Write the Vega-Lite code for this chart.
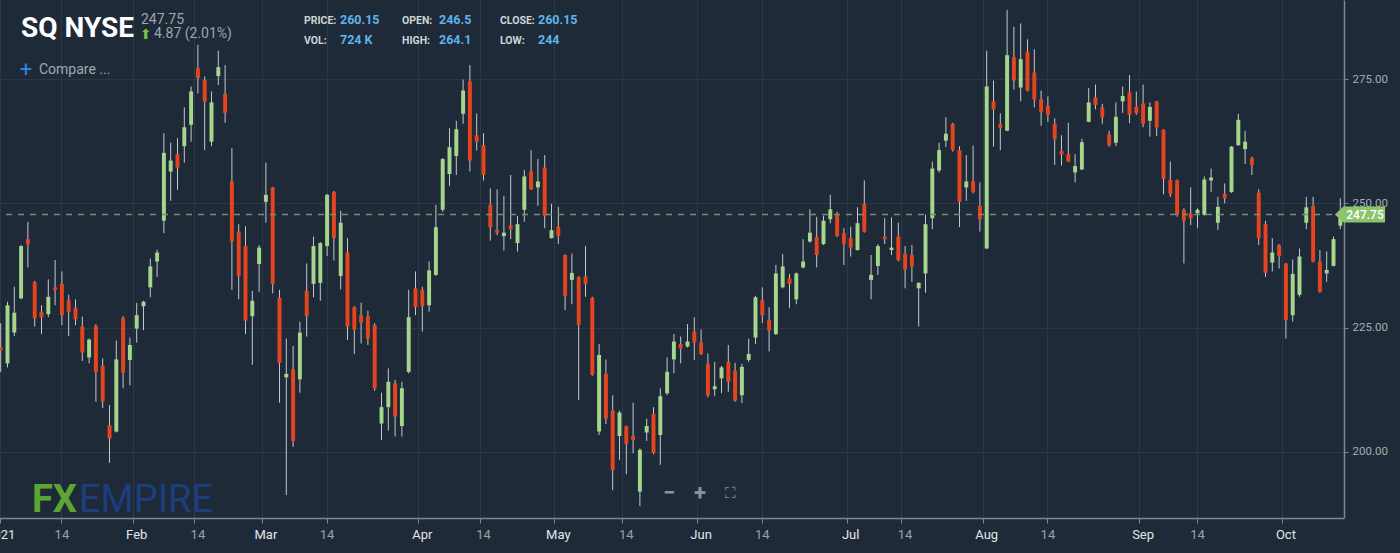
{
  "$schema": "https://vega.github.io/schema/vega-lite/v6.json",
  "width": 1344,
  "height": 518,
  "autosize": "none",
  "padding": {"left": 0, "top": 0, "right": 56, "bottom": 35},
  "background": "#1e2a37",
  "config": {"view": {"stroke": null}, "font": "Roboto"},
  "datasets": {
    "sq": [
      {"date": "2020-12-31", "open": 221.0, "high": 225.9, "low": 216.1, "close": 220.4},
      {"date": "2021-01-04", "open": 217.8, "high": 230.2, "low": 217.0, "close": 229.5},
      {"date": "2021-01-05", "open": 224.0, "high": 233.2, "low": 223.3, "close": 228.0},
      {"date": "2021-01-06", "open": 230.9, "high": 241.6, "low": 230.7, "close": 241.4},
      {"date": "2021-01-07", "open": 242.8, "high": 246.3, "low": 237.1, "close": 241.8},
      {"date": "2021-01-08", "open": 234.2, "high": 234.4, "low": 225.2, "close": 226.9},
      {"date": "2021-01-11", "open": 228.2, "high": 229.5, "low": 223.7, "close": 227.1},
      {"date": "2021-01-12", "open": 227.7, "high": 234.7, "low": 227.1, "close": 231.2},
      {"date": "2021-01-13", "open": 233.1, "high": 238.6, "low": 229.5, "close": 232.6},
      {"date": "2021-01-14", "open": 233.8, "high": 236.3, "low": 225.5, "close": 227.5},
      {"date": "2021-01-15", "open": 230.5, "high": 231.6, "low": 223.3, "close": 228.2},
      {"date": "2021-01-19", "open": 229.0, "high": 230.7, "low": 225.5, "close": 226.7},
      {"date": "2021-01-20", "open": 225.2, "high": 227.2, "low": 218.3, "close": 220.0},
      {"date": "2021-01-21", "open": 219.0, "high": 222.8, "low": 217.8, "close": 222.6},
      {"date": "2021-01-22", "open": 225.3, "high": 225.7, "low": 210.1, "close": 216.1},
      {"date": "2021-01-25", "open": 217.3, "high": 218.8, "low": 208.8, "close": 210.1},
      {"date": "2021-01-26", "open": 205.4, "high": 209.4, "low": 197.8, "close": 202.7},
      {"date": "2021-01-27", "open": 204.1, "high": 222.4, "low": 203.9, "close": 218.6},
      {"date": "2021-01-28", "open": 226.9, "high": 227.3, "low": 212.8, "close": 215.9},
      {"date": "2021-01-29", "open": 218.5, "high": 223.0, "low": 213.4, "close": 221.5},
      {"date": "2021-02-01", "open": 224.8, "high": 230.0, "low": 222.0, "close": 227.5},
      {"date": "2021-02-02", "open": 229.3, "high": 230.4, "low": 224.5, "close": 230.2},
      {"date": "2021-02-03", "open": 233.1, "high": 238.9, "low": 231.1, "close": 237.3},
      {"date": "2021-02-04", "open": 238.3, "high": 240.7, "low": 235.2, "close": 240.1},
      {"date": "2021-02-05", "open": 246.5, "high": 264.1, "low": 244.0, "close": 260.15},
      {"date": "2021-02-08", "open": 256.4, "high": 262.2, "low": 250.5, "close": 258.6},
      {"date": "2021-02-09", "open": 259.9, "high": 263.1, "low": 252.7, "close": 257.2},
      {"date": "2021-02-10", "open": 261.5, "high": 269.3, "low": 258.2, "close": 265.3},
      {"date": "2021-02-11", "open": 265.8, "high": 273.5, "low": 262.4, "close": 272.5},
      {"date": "2021-02-12", "open": 277.2, "high": 281.9, "low": 272.1, "close": 275.2},
      {"date": "2021-02-16", "open": 274.8, "high": 275.5, "low": 260.7, "close": 270.5},
      {"date": "2021-02-17", "open": 262.4, "high": 272.5, "low": 261.5, "close": 270.3},
      {"date": "2021-02-18", "open": 275.6, "high": 280.7, "low": 273.8, "close": 277.4},
      {"date": "2021-02-19", "open": 272.0, "high": 277.8, "low": 266.2, "close": 268.2},
      {"date": "2021-02-22", "open": 254.4, "high": 261.1, "low": 232.6, "close": 242.3},
      {"date": "2021-02-23", "open": 244.3, "high": 245.8, "low": 230.7, "close": 235.4},
      {"date": "2021-02-24", "open": 241.4, "high": 245.4, "low": 223.7, "close": 226.4},
      {"date": "2021-02-25", "open": 227.3, "high": 232.4, "low": 217.5, "close": 230.4},
      {"date": "2021-02-26", "open": 237.8, "high": 241.6, "low": 232.2, "close": 241.1},
      {"date": "2021-03-01", "open": 250.3, "high": 258.2, "low": 246.1, "close": 251.7},
      {"date": "2021-03-02", "open": 253.2, "high": 253.3, "low": 231.9, "close": 233.8},
      {"date": "2021-03-03", "open": 231.0, "high": 232.6, "low": 209.9, "close": 217.9},
      {"date": "2021-03-04", "open": 215.0, "high": 222.8, "low": 191.3, "close": 215.7},
      {"date": "2021-03-05", "open": 216.6, "high": 221.3, "low": 201.0, "close": 202.2},
      {"date": "2021-03-08", "open": 214.6, "high": 226.2, "low": 211.9, "close": 224.0},
      {"date": "2021-03-09", "open": 232.4, "high": 237.9, "low": 223.2, "close": 227.3},
      {"date": "2021-03-10", "open": 233.8, "high": 243.3, "low": 231.1, "close": 241.4},
      {"date": "2021-03-11", "open": 234.0, "high": 242.2, "low": 230.4, "close": 242.0},
      {"date": "2021-03-12", "open": 241.4, "high": 251.9, "low": 239.4, "close": 251.7},
      {"date": "2021-03-15", "open": 252.3, "high": 252.5, "low": 238.5, "close": 243.0},
      {"date": "2021-03-16", "open": 235.4, "high": 248.5, "low": 232.7, "close": 246.1},
      {"date": "2021-03-17", "open": 240.1, "high": 243.0, "low": 222.5, "close": 225.2},
      {"date": "2021-03-18", "open": 229.1, "high": 229.3, "low": 219.7, "close": 224.6},
      {"date": "2021-03-19", "open": 227.5, "high": 230.0, "low": 221.8, "close": 226.0},
      {"date": "2021-03-22", "open": 227.3, "high": 228.4, "low": 221.5, "close": 222.8},
      {"date": "2021-03-23", "open": 225.5, "high": 225.9, "low": 212.3, "close": 212.8},
      {"date": "2021-03-24", "open": 205.7, "high": 211.9, "low": 202.4, "close": 209.0},
      {"date": "2021-03-25", "open": 209.0, "high": 216.8, "low": 204.3, "close": 214.1},
      {"date": "2021-03-26", "open": 213.8, "high": 214.5, "low": 203.1, "close": 207.1},
      {"date": "2021-03-29", "open": 205.2, "high": 214.1, "low": 203.1, "close": 212.8},
      {"date": "2021-03-30", "open": 216.1, "high": 232.6, "low": 215.8, "close": 227.1},
      {"date": "2021-03-31", "open": 232.9, "high": 236.3, "low": 227.5, "close": 229.1},
      {"date": "2021-04-01", "open": 232.6, "high": 233.2, "low": 224.2, "close": 229.3},
      {"date": "2021-04-05", "open": 229.5, "high": 238.3, "low": 228.2, "close": 236.5},
      {"date": "2021-04-06", "open": 235.6, "high": 249.7, "low": 235.4, "close": 245.2},
      {"date": "2021-04-07", "open": 248.7, "high": 259.1, "low": 248.3, "close": 258.9},
      {"date": "2021-04-08", "open": 255.9, "high": 265.1, "low": 253.5, "close": 261.3},
      {"date": "2021-04-09", "open": 259.5, "high": 266.6, "low": 255.7, "close": 264.9},
      {"date": "2021-04-12", "open": 268.0, "high": 274.9, "low": 266.0, "close": 272.7},
      {"date": "2021-04-13", "open": 274.5, "high": 277.8, "low": 256.4, "close": 258.6},
      {"date": "2021-04-14", "open": 263.7, "high": 268.1, "low": 260.6, "close": 262.4},
      {"date": "2021-04-15", "open": 261.7, "high": 264.1, "low": 254.6, "close": 255.7},
      {"date": "2021-04-16", "open": 249.7, "high": 253.0, "low": 242.5, "close": 245.2},
      {"date": "2021-04-19", "open": 244.6, "high": 252.8, "low": 243.6, "close": 244.1},
      {"date": "2021-04-20", "open": 243.4, "high": 251.5, "low": 240.5, "close": 244.1},
      {"date": "2021-04-21", "open": 245.6, "high": 255.7, "low": 242.8, "close": 244.8},
      {"date": "2021-04-22", "open": 242.0, "high": 247.5, "low": 240.3, "close": 245.8},
      {"date": "2021-04-23", "open": 248.7, "high": 256.7, "low": 246.3, "close": 255.4},
      {"date": "2021-04-26", "open": 256.4, "high": 260.7, "low": 252.7, "close": 252.8},
      {"date": "2021-04-27", "open": 253.2, "high": 258.9, "low": 249.5, "close": 254.4},
      {"date": "2021-04-28", "open": 257.2, "high": 259.7, "low": 245.0, "close": 247.5},
      {"date": "2021-04-29", "open": 243.0, "high": 249.9, "low": 242.9, "close": 244.6},
      {"date": "2021-04-30", "open": 245.3, "high": 249.3, "low": 241.8, "close": 243.4},
      {"date": "2021-05-03", "open": 239.6, "high": 239.7, "low": 228.5, "close": 231.4},
      {"date": "2021-05-04", "open": 234.6, "high": 239.9, "low": 229.7, "close": 236.0},
      {"date": "2021-05-05", "open": 235.2, "high": 235.3, "low": 210.4, "close": 225.5},
      {"date": "2021-05-06", "open": 235.3, "high": 241.4, "low": 231.2, "close": 233.8},
      {"date": "2021-05-07", "open": 231.0, "high": 231.2, "low": 215.3, "close": 215.5},
      {"date": "2021-05-10", "open": 204.1, "high": 221.7, "low": 203.4, "close": 219.5},
      {"date": "2021-05-11", "open": 215.7, "high": 218.6, "low": 205.6, "close": 206.7},
      {"date": "2021-05-12", "open": 208.3, "high": 211.4, "low": 192.3, "close": 196.3},
      {"date": "2021-05-13", "open": 203.2, "high": 208.3, "low": 198.4, "close": 207.9},
      {"date": "2021-05-14", "open": 205.2, "high": 205.3, "low": 195.5, "close": 201.6},
      {"date": "2021-05-17", "open": 203.2, "high": 209.9, "low": 199.7, "close": 202.4},
      {"date": "2021-05-18", "open": 192.0, "high": 200.7, "low": 189.1, "close": 200.4},
      {"date": "2021-05-19", "open": 203.9, "high": 206.7, "low": 202.2, "close": 205.2},
      {"date": "2021-05-20", "open": 207.6, "high": 209.0, "low": 199.5, "close": 199.8},
      {"date": "2021-05-21", "open": 203.4, "high": 212.8, "low": 197.4, "close": 211.2},
      {"date": "2021-05-24", "open": 211.8, "high": 219.0, "low": 211.4, "close": 216.1},
      {"date": "2021-05-25", "open": 218.6, "high": 223.7, "low": 215.8, "close": 222.2},
      {"date": "2021-05-26", "open": 221.7, "high": 223.2, "low": 217.8, "close": 220.8},
      {"date": "2021-05-27", "open": 221.2, "high": 225.7, "low": 221.0, "close": 222.2},
      {"date": "2021-05-28", "open": 224.2, "high": 227.1, "low": 218.5, "close": 222.0},
      {"date": "2021-06-01", "open": 222.0, "high": 224.6, "low": 219.5, "close": 219.7},
      {"date": "2021-06-02", "open": 217.7, "high": 219.8, "low": 211.0, "close": 211.4},
      {"date": "2021-06-03", "open": 212.6, "high": 218.1, "low": 211.2, "close": 213.2},
      {"date": "2021-06-04", "open": 214.8, "high": 217.3, "low": 211.8, "close": 217.0},
      {"date": "2021-06-07", "open": 218.1, "high": 221.5, "low": 212.1, "close": 214.1},
      {"date": "2021-06-08", "open": 216.3, "high": 217.9, "low": 210.1, "close": 210.3},
      {"date": "2021-06-09", "open": 211.4, "high": 217.7, "low": 209.8, "close": 217.1},
      {"date": "2021-06-10", "open": 218.5, "high": 222.8, "low": 218.1, "close": 219.7},
      {"date": "2021-06-11", "open": 223.0, "high": 231.4, "low": 221.7, "close": 231.1},
      {"date": "2021-06-14", "open": 230.5, "high": 233.1, "low": 225.9, "close": 227.5},
      {"date": "2021-06-15", "open": 226.5, "high": 229.1, "low": 220.2, "close": 224.4},
      {"date": "2021-06-16", "open": 223.7, "high": 237.6, "low": 223.5, "close": 235.9},
      {"date": "2021-06-17", "open": 233.1, "high": 239.8, "low": 232.9, "close": 237.3},
      {"date": "2021-06-18", "open": 234.9, "high": 235.8, "low": 228.9, "close": 233.8},
      {"date": "2021-06-21", "open": 230.7, "high": 236.1, "low": 229.7, "close": 235.9},
      {"date": "2021-06-22", "open": 237.1, "high": 242.8, "low": 236.9, "close": 238.3},
      {"date": "2021-06-23", "open": 242.3, "high": 248.8, "low": 242.1, "close": 244.1},
      {"date": "2021-06-24", "open": 243.2, "high": 247.3, "low": 237.1, "close": 239.6},
      {"date": "2021-06-25", "open": 241.8, "high": 247.5, "low": 241.6, "close": 246.5},
      {"date": "2021-06-28", "open": 246.8, "high": 251.7, "low": 246.0, "close": 248.8},
      {"date": "2021-06-29", "open": 247.7, "high": 248.3, "low": 243.2, "close": 243.4},
      {"date": "2021-06-30", "open": 244.0, "high": 245.0, "low": 237.6, "close": 241.8},
      {"date": "2021-07-01", "open": 243.0, "high": 245.3, "low": 239.3, "close": 241.1},
      {"date": "2021-07-02", "open": 240.6, "high": 249.2, "low": 240.5, "close": 246.0},
      {"date": "2021-07-06", "open": 249.9, "high": 254.6, "low": 244.1, "close": 244.3},
      {"date": "2021-07-07", "open": 234.6, "high": 239.6, "low": 230.7, "close": 235.6},
      {"date": "2021-07-08", "open": 237.4, "high": 241.8, "low": 235.6, "close": 241.4},
      {"date": "2021-07-09", "open": 243.3, "high": 247.0, "low": 241.8, "close": 242.8},
      {"date": "2021-07-12", "open": 240.6, "high": 247.2, "low": 239.6, "close": 241.1},
      {"date": "2021-07-13", "open": 243.3, "high": 246.1, "low": 238.3, "close": 238.6},
      {"date": "2021-07-14", "open": 239.9, "high": 241.4, "low": 232.9, "close": 236.7},
      {"date": "2021-07-15", "open": 239.6, "high": 241.6, "low": 234.2, "close": 237.3},
      {"date": "2021-07-16", "open": 232.9, "high": 234.1, "low": 225.2, "close": 234.0},
      {"date": "2021-07-19", "open": 235.9, "high": 247.7, "low": 232.0, "close": 245.8},
      {"date": "2021-07-20", "open": 247.0, "high": 258.4, "low": 244.8, "close": 257.0},
      {"date": "2021-07-21", "open": 256.6, "high": 262.2, "low": 256.2, "close": 260.7},
      {"date": "2021-07-22", "open": 262.6, "high": 267.3, "low": 261.3, "close": 264.0},
      {"date": "2021-07-23", "open": 266.0, "high": 266.2, "low": 260.4, "close": 260.7},
      {"date": "2021-07-26", "open": 260.7, "high": 261.5, "low": 245.2, "close": 250.3},
      {"date": "2021-07-27", "open": 253.2, "high": 259.7, "low": 250.5, "close": 254.4},
      {"date": "2021-07-28", "open": 254.5, "high": 261.6, "low": 252.0, "close": 252.3},
      {"date": "2021-07-29", "open": 249.5, "high": 254.2, "low": 244.3, "close": 246.8},
      {"date": "2021-07-30", "open": 240.9, "high": 280.7, "low": 240.8, "close": 273.5},
      {"date": "2021-08-02", "open": 270.5, "high": 274.7, "low": 261.4, "close": 268.9},
      {"date": "2021-08-03", "open": 265.9, "high": 268.1, "low": 260.7, "close": 265.2},
      {"date": "2021-08-04", "open": 264.6, "high": 288.9, "low": 264.5, "close": 279.8},
      {"date": "2021-08-05", "open": 279.4, "high": 285.5, "low": 272.9, "close": 274.7},
      {"date": "2021-08-06", "open": 273.3, "high": 286.2, "low": 270.5, "close": 279.0},
      {"date": "2021-08-09", "open": 280.5, "high": 283.0, "low": 272.5, "close": 272.7},
      {"date": "2021-08-10", "open": 276.3, "high": 281.0, "low": 269.3, "close": 270.9},
      {"date": "2021-08-11", "open": 270.9, "high": 272.7, "low": 265.6, "close": 268.4},
      {"date": "2021-08-12", "open": 269.6, "high": 271.5, "low": 266.4, "close": 267.8},
      {"date": "2021-08-13", "open": 266.0, "high": 267.1, "low": 257.7, "close": 262.9},
      {"date": "2021-08-16", "open": 260.5, "high": 263.7, "low": 257.6, "close": 259.8},
      {"date": "2021-08-17", "open": 259.9, "high": 266.2, "low": 258.3, "close": 258.4},
      {"date": "2021-08-18", "open": 256.2, "high": 259.9, "low": 254.2, "close": 257.5},
      {"date": "2021-08-19", "open": 256.8, "high": 263.0, "low": 256.7, "close": 262.3},
      {"date": "2021-08-20", "open": 266.4, "high": 273.2, "low": 266.3, "close": 270.3},
      {"date": "2021-08-23", "open": 271.3, "high": 273.9, "low": 268.9, "close": 269.8},
      {"date": "2021-08-24", "open": 269.3, "high": 270.0, "low": 266.0, "close": 267.3},
      {"date": "2021-08-25", "open": 263.8, "high": 264.6, "low": 261.4, "close": 261.7},
      {"date": "2021-08-26", "open": 262.2, "high": 270.3, "low": 261.5, "close": 267.4},
      {"date": "2021-08-27", "open": 270.5, "high": 273.5, "low": 268.2, "close": 271.6},
      {"date": "2021-08-30", "open": 272.3, "high": 275.8, "low": 266.1, "close": 267.8},
      {"date": "2021-08-31", "open": 269.4, "high": 272.5, "low": 267.8, "close": 268.2},
      {"date": "2021-09-01", "open": 270.1, "high": 273.9, "low": 265.3, "close": 266.0},
      {"date": "2021-09-02", "open": 266.6, "high": 270.3, "low": 263.4, "close": 269.4},
      {"date": "2021-09-03", "open": 270.5, "high": 270.6, "low": 263.5, "close": 265.3},
      {"date": "2021-09-07", "open": 264.8, "high": 264.9, "low": 251.8, "close": 254.9},
      {"date": "2021-09-08", "open": 254.7, "high": 258.4, "low": 251.3, "close": 251.9},
      {"date": "2021-09-09", "open": 254.6, "high": 254.8, "low": 247.3, "close": 247.7},
      {"date": "2021-09-10", "open": 248.7, "high": 249.0, "low": 237.9, "close": 246.5},
      {"date": "2021-09-13", "open": 248.0, "high": 253.2, "low": 245.6, "close": 247.0},
      {"date": "2021-09-14", "open": 248.0, "high": 249.0, "low": 245.0, "close": 248.7},
      {"date": "2021-09-15", "open": 247.7, "high": 255.4, "low": 247.5, "close": 254.8},
      {"date": "2021-09-16", "open": 254.6, "high": 257.0, "low": 252.3, "close": 255.2},
      {"date": "2021-09-17", "open": 246.1, "high": 251.3, "low": 244.6, "close": 249.3},
      {"date": "2021-09-20", "open": 251.9, "high": 254.0, "low": 250.0, "close": 251.0},
      {"date": "2021-09-21", "open": 252.3, "high": 261.5, "low": 252.1, "close": 261.4},
      {"date": "2021-09-22", "open": 261.7, "high": 268.0, "low": 261.6, "close": 266.8},
      {"date": "2021-09-23", "open": 260.9, "high": 264.6, "low": 257.9, "close": 262.4},
      {"date": "2021-09-24", "open": 259.1, "high": 259.4, "low": 255.7, "close": 257.7},
      {"date": "2021-09-27", "open": 252.1, "high": 252.8, "low": 241.6, "close": 243.0},
      {"date": "2021-09-28", "open": 245.8, "high": 246.5, "low": 235.2, "close": 236.0},
      {"date": "2021-09-29", "open": 238.1, "high": 243.0, "low": 236.3, "close": 240.1},
      {"date": "2021-09-30", "open": 241.6, "high": 241.8, "low": 236.9, "close": 239.4},
      {"date": "2021-10-01", "open": 237.9, "high": 238.0, "low": 222.8, "close": 226.5},
      {"date": "2021-10-04", "open": 227.5, "high": 238.7, "low": 226.2, "close": 235.8},
      {"date": "2021-10-05", "open": 231.6, "high": 240.9, "low": 231.2, "close": 239.3},
      {"date": "2021-10-06", "open": 246.1, "high": 251.3, "low": 244.8, "close": 249.2},
      {"date": "2021-10-07", "open": 249.5, "high": 251.3, "low": 238.1, "close": 238.3},
      {"date": "2021-10-08", "open": 238.3, "high": 240.6, "low": 232.0, "close": 232.2},
      {"date": "2021-10-11", "open": 235.9, "high": 240.3, "low": 234.2, "close": 236.6},
      {"date": "2021-10-12", "open": 237.4, "high": 243.3, "low": 237.3, "close": 242.8},
      {"date": "2021-10-13", "open": 245.5, "high": 251.0, "low": 244.8, "close": 247.75}
    ]
  },
  "layer": [
    {
      "data": {"name": "sq"},
      "mark": {"type": "rule", "color": "#c3c8ce", "strokeWidth": 1},
      "encoding": {
        "x": {
          "field": "date",
          "type": "ordinal",
          "scale": {"range": [-2.7, 1343.7], "paddingInner": 0, "paddingOuter": 0},
          "axis": {
            "orient": "bottom",
            "title": null,
            "values": ["2021-02-01", "2021-02-12", "2021-03-01", "2021-04-01", "2021-04-15", "2021-04-30", "2021-05-14", "2021-06-01", "2021-07-01", "2021-07-14", "2021-07-30", "2021-09-01", "2021-10-01"],
            "bandPosition": 0,
            "labelExpr": "({'2021-02-01': 'Feb', '2021-03-01': 'Mar', '2021-04-01': 'Apr', '2021-04-30': 'May', '2021-06-01': 'Jun', '2021-07-01': 'Jul', '2021-07-30': 'Aug', '2021-09-01': 'Sep', '2021-10-01': 'Oct'})[datum.value] || '14'",
            "labelAngle": 0,
            "labelOverlap": false,
            "labelFontSize": 13,
            "labelPadding": 5,
            "labelColor": {"condition": {"test": "indexof(['2021-02-12', '2021-04-15', '2021-05-14', '2021-07-14'], datum.value) >= 0", "value": "#9aa2aa"}, "value": "#e2e6ea"},
            "grid": true,
            "gridColor": "#2b3847",
            "tickColor": "#7e8893",
            "tickSize": 5,
            "domainColor": "#7e8893",
            "domainWidth": 1.5
          }
        },
        "y": {
          "field": "low",
          "type": "quantitative",
          "scale": {"domain": [186.7, 290.9], "nice": false, "zero": false},
          "axis": {
            "orient": "right",
            "title": null,
            "values": [200, 225, 250, 275],
            "format": ".2f",
            "labelFontSize": 11.5,
            "labelColor": "#a7aeb5",
            "labelPadding": 4,
            "tickSize": 4,
            "tickColor": "#7e8893",
            "domainColor": "#7e8893",
            "domainWidth": 1.5,
            "grid": true,
            "gridColor": "#2b3847"
          }
        },
        "y2": {"field": "high"}
      }
    },
    {
      "data": {"name": "sq"},
      "mark": {"type": "bar", "width": {"band": 0.58}},
      "encoding": {
        "x": {
          "field": "date",
          "type": "ordinal",
          "axis": {
            "orient": "bottom",
            "title": null,
            "values": ["2020-12-31", "2021-01-14", "2021-03-12", "2021-06-14", "2021-08-12", "2021-09-14"],
            "bandPosition": 0.5,
            "labelExpr": "datum.value == '2020-12-31' ? '2021' : '14'",
            "labelAngle": 0,
            "labelOverlap": false,
            "labelFontSize": 13,
            "labelPadding": 5,
            "labelColor": {"condition": {"test": "datum.value == '2020-12-31'", "value": "#e2e6ea"}, "value": "#9aa2aa"},
            "grid": true,
            "gridColor": "#2b3847",
            "tickColor": "#7e8893",
            "tickSize": 5,
            "domain": false
          }
        },
        "y": {"field": "open", "type": "quantitative"},
        "y2": {"field": "close"},
        "color": {"condition": {"test": "datum.close >= datum.open", "value": "#a5d68c"}, "value": "#e6441f"}
      }
    },
    {
      "data": {"values": [{"last": 247.75}]},
      "mark": {"type": "rule", "color": "#71906e", "strokeDash": [6, 6], "strokeWidth": 1.5},
      "encoding": {"y": {"field": "last", "type": "quantitative"}}
    },
    {
      "data": {"values": [{"last": 247.75}]},
      "mark": {"type": "point", "filled": true, "opacity": 1, "color": "#8cc46c", "size": 2704, "shape": "M-0.35,0 L-0.02,-0.31 L1.58,-0.31 L1.58,0.31 L-0.02,0.31 Z", "clip": false},
      "encoding": {"x": {"value": "width"}, "y": {"field": "last", "type": "quantitative"}}
    },
    {
      "data": {"values": [{"last": 247.75}]},
      "mark": {"type": "text", "dx": 21, "fontSize": 12, "fontWeight": 500, "color": "#ffffff", "align": "center", "baseline": "middle"},
      "encoding": {"x": {"value": "width"}, "y": {"field": "last", "type": "quantitative"}, "text": {"field": "last", "type": "quantitative", "format": ".2f"}}
    },
    {
      "data": {"values": [{}]},
      "mark": {"type": "text", "text": "SQ NYSE", "x": 21, "y": 37, "align": "left", "baseline": "alphabetic", "fontSize": 28, "fontWeight": "bold", "color": "#ffffff"}
    },
    {
      "data": {"values": [{}]},
      "mark": {"type": "text", "text": "247.75", "x": 141, "y": 24, "align": "left", "baseline": "alphabetic", "fontSize": 14, "color": "#9ea5ac"}
    },
    {
      "data": {"values": [{}]},
      "mark": {"type": "text", "text": "⬆", "x": 140, "y": 39, "align": "left", "baseline": "alphabetic", "fontSize": 14, "font": "DejaVu Sans", "color": "#79c043"}
    },
    {
      "data": {"values": [{}]},
      "mark": {"type": "text", "text": "4.87 (2.01%)", "x": 154, "y": 38, "align": "left", "baseline": "alphabetic", "fontSize": 14, "color": "#9ea5ac"}
    },
    {
      "data": {"values": [{}]},
      "mark": {"type": "text", "text": ["PRICE:", "VOL:"], "lineHeight": 20, "x": 304, "y": 24, "align": "left", "baseline": "alphabetic", "fontSize": 10.5, "fontWeight": "bold", "color": "#cfd4d9"}
    },
    {
      "data": {"values": [{}]},
      "mark": {"type": "text", "text": ["260.15", "724 K"], "lineHeight": 20, "x": 340, "y": 24, "align": "left", "baseline": "alphabetic", "fontSize": 12.5, "fontWeight": "bold", "color": "#5db3ee"}
    },
    {
      "data": {"values": [{}]},
      "mark": {"type": "text", "text": ["OPEN:", "HIGH:"], "lineHeight": 20, "x": 402, "y": 24, "align": "left", "baseline": "alphabetic", "fontSize": 10.5, "fontWeight": "bold", "color": "#cfd4d9"}
    },
    {
      "data": {"values": [{}]},
      "mark": {"type": "text", "text": ["246.5", "264.1"], "lineHeight": 20, "x": 439, "y": 24, "align": "left", "baseline": "alphabetic", "fontSize": 12.5, "fontWeight": "bold", "color": "#5db3ee"}
    },
    {
      "data": {"values": [{}]},
      "mark": {"type": "text", "text": ["CLOSE:", "LOW:"], "lineHeight": 20, "x": 500, "y": 24, "align": "left", "baseline": "alphabetic", "fontSize": 10.5, "fontWeight": "bold", "color": "#cfd4d9"}
    },
    {
      "data": {"values": [{}]},
      "mark": {"type": "text", "text": ["260.15", "244"], "lineHeight": 20, "x": 538, "y": 24, "align": "left", "baseline": "alphabetic", "fontSize": 12.5, "fontWeight": "bold", "color": "#5db3ee"}
    },
    {
      "data": {"values": [{}]},
      "mark": {"type": "text", "text": "+", "x": 26, "y": 70, "align": "center", "baseline": "middle", "fontSize": 22, "color": "#2f80e8"}
    },
    {
      "data": {"values": [{}]},
      "mark": {"type": "text", "text": "Compare ...", "x": 39, "y": 70, "align": "left", "baseline": "middle", "fontSize": 14, "color": "#a2a9b0"}
    },
    {
      "data": {"values": [{}]},
      "mark": {"type": "text", "text": "FX", "x": 32, "y": 512, "align": "left", "baseline": "alphabetic", "fontSize": 38, "fontWeight": "bold", "color": "#5ca532"}
    },
    {
      "data": {"values": [{}]},
      "mark": {"type": "text", "text": "EMPIRE", "x": 79, "y": 512, "align": "left", "baseline": "alphabetic", "fontSize": 38, "color": "#1c3e7c"}
    },
    {
      "data": {"values": [{}]},
      "mark": {"type": "text", "text": "−", "x": 669, "y": 493, "align": "center", "baseline": "middle", "fontSize": 22, "fontWeight": "bold", "color": "#8b939b"}
    },
    {
      "data": {"values": [{}]},
      "mark": {"type": "text", "text": "+", "x": 700, "y": 493, "align": "center", "baseline": "middle", "fontSize": 22, "fontWeight": "bold", "color": "#8b939b"}
    },
    {
      "data": {"values": [{}]},
      "mark": {"type": "text", "text": "⛶", "x": 730, "y": 493, "align": "center", "baseline": "middle", "fontSize": 15, "font": "DejaVu Sans", "color": "#8b939b"}
    }
  ],
  "resolve": {"axis": {"x": "independent"}}
}
